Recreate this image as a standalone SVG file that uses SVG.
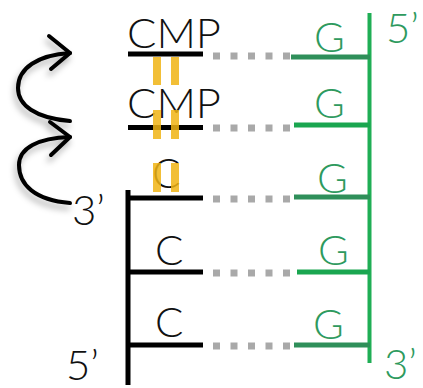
<svg xmlns="http://www.w3.org/2000/svg" width="423" height="388" viewBox="0 0 423 388">
  <defs>
    <filter id="sh" x="-50%" y="-50%" width="200%" height="200%">
      <feDropShadow dx="-2" dy="5" stdDeviation="3" flood-color="#000" flood-opacity="0.3"/>
    </filter>
  </defs>
  <style>
    text { font-family: Lato, "Liberation Sans", Arial, sans-serif; font-size: 42px; font-weight: 300; }
    .blk { fill: #111; }
    .grn { fill: #2e9a5e; }
    .bl { stroke: #000; stroke-width: 5; fill: none; }
    .gl { stroke: #2f8f5a; stroke-width: 5; fill: none; }
    .gv { stroke: #1fae55; stroke-width: 4; fill: none; }
    .dot { stroke: #a9a9a9; stroke-width: 7; stroke-dasharray: 7 10.5; fill: none; }
    .bar { fill: #f0b414; opacity: 0.85; }
    .arr { stroke: #000; stroke-width: 4; fill: none; stroke-linecap: round; stroke-linejoin: round; }
  </style>

  <g id="connectors">
    <line class="dot" x1="213" y1="56" x2="291" y2="56"/>
    <line class="dot" x1="213" y1="128" x2="291" y2="128"/>
    <line class="dot" x1="213" y1="199" x2="291" y2="199"/>
    <line class="dot" x1="213" y1="273" x2="291" y2="273"/>
    <line class="dot" x1="213" y1="346" x2="291" y2="346"/>
  </g>

  <g id="template-strand">
    <line class="gv" x1="369.5" y1="13" x2="369.5" y2="363"/>
    <line class="gl" x1="291" y1="57" x2="370" y2="57"/>
    <line class="gl" x1="294" y1="125" x2="370" y2="125" style="stroke:#1aa650"/>
    <line class="gl" x1="294" y1="197" x2="370" y2="197"/>
    <line class="gl" x1="297" y1="272" x2="370" y2="272" style="stroke:#1aa650"/>
    <line class="gl" x1="294" y1="345" x2="370" y2="345"/>
    <text class="grn" x="314" y="52">G</text>
    <text class="grn" x="314" y="118">G</text>
    <text class="grn" x="317" y="193">G</text>
    <text class="grn" x="318" y="265">G</text>
    <text class="grn" x="313" y="339">G</text>
    <text class="grn" x="386" y="43">5’</text>
    <text class="grn" x="384" y="379">3’</text>
  </g>

  <g id="primer-strand">
    <line class="bl" x1="128" y1="190" x2="128" y2="385"/>
    <line class="bl" x1="126" y1="198" x2="203" y2="198"/>
    <line class="bl" x1="126" y1="272" x2="203" y2="272"/>
    <line class="bl" x1="126" y1="345" x2="203" y2="345"/>
    <text class="blk" x="152" y="188">C</text>
    <text class="blk" x="155" y="265">C</text>
    <text class="blk" x="155" y="337">C</text>
    <text class="blk" x="72" y="225">3’</text>
    <text class="blk" x="66" y="380">5’</text>
  </g>

  <g id="cmp1">
    <line class="bl" x1="128" y1="54" x2="203" y2="54"/>
    <text class="blk" x="127" y="48" textLength="94" lengthAdjust="spacingAndGlyphs">CMP</text>
  </g>

  <g id="cmp2">
    <line class="bl" x1="128" y1="127.5" x2="203" y2="127.5"/>
    <text class="blk" x="127" y="118" textLength="94" lengthAdjust="spacingAndGlyphs">CMP</text>
  </g>

  <g id="bonds">
    <rect class="bar" x="153" y="57" width="8" height="28"/>
    <rect class="bar" x="171" y="57" width="8" height="28"/>
    <rect class="bar" x="153" y="110" width="8" height="29"/>
    <rect class="bar" x="171" y="110" width="8" height="29"/>
    <rect class="bar" x="153" y="163" width="8" height="29"/>
    <rect class="bar" x="171" y="163" width="8" height="29"/>
  </g>

  <g id="arrows" filter="url(#sh)">
    <path class="arr" d="M70,121 C35,118 18,105 18,88 C18,68 38,55 70,53"/>
    <polyline class="arr" points="49,36 70,53 51,69"/>
    <path class="arr" d="M70,203 C35,200 19,185 19,165 C19,148 38,138 70,137"/>
    <polyline class="arr" points="50,122 70,137 51,155"/>
  </g>
</svg>
